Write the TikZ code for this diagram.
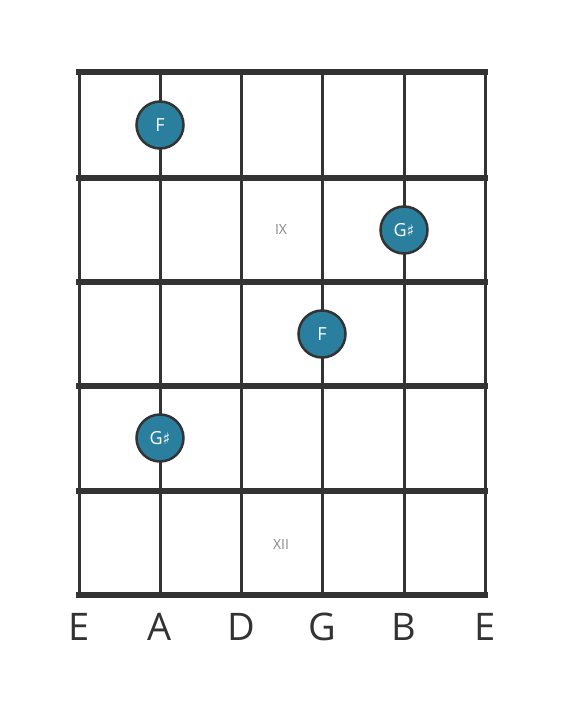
\documentclass[tikz,border=0pt]{standalone}
\usepackage{fontspec}
\setmainfont{Open Sans}
\newfontfamily\symfont{DejaVu Sans}
\definecolor{ink}{HTML}{333333}
\definecolor{dotc}{HTML}{2A7F9E}
\definecolor{roman}{HTML}{888888}
\tikzset{
  string/.style={draw=ink,line width=3bp},
  fret/.style={draw=ink,line width=5.5bp},
  notedot/.style={circle,fill=dotc,draw=ink,line width=2.5bp,minimum size=47bp,inner sep=0pt,text=white,font=\fontsize{18bp}{20bp}\selectfont},
  romanlbl/.style={text=roman,font=\fontsize{14bp}{16bp}\selectfont},
  strlbl/.style={text=ink,font=\fontsize{38bp}{40bp}\selectfont,anchor=base},
}
\newcommand{\shp}{{\symfont\fontsize{16bp}{18bp}\selectfont ♯}}
\begin{document}
\begin{tikzpicture}[x=1bp,y=-1bp]
\useasboundingbox (0,0) rectangle (566,711);
% string coordinates
\foreach \i/\x in {1/79,2/160,3/241,4/322,5/404,6/485}{
  \coordinate (s\i t) at (\x,72);
  \coordinate (s\i b) at (\x,595);
}
\foreach \i in {1,...,6}{ \draw[string] (s\i t) -- (s\i b); }
\foreach \j/\y in {0/72,1/178,2/282,3/386,4/491,5/595}{
  \coordinate (f\j l) at (79,\y);
  \coordinate (f\j r) at (485,\y);
}
\foreach \j in {0,...,5}{ \draw[fret,line cap=rect] (f\j l) -- (f\j r); }
\node[romanlbl] (ix) at (281,230) {IX};
\node[romanlbl] (xii) at (281,544) {XII};
\node[notedot] (n1) at (160,125) {F};
\node[notedot] (n2) at (404,230) {G\shp};
\node[notedot] (n3) at (322,334) {F};
\node[notedot] (n4) at (160,438) {G\shp};
\foreach \i/\x/\l in {1/79/E,2/160/A,3/241/D,4/322/G,5/404/B,6/485/E}{
  \node[strlbl] (l\i) at (\x,640) {\l};
}
\end{tikzpicture}
\end{document}
